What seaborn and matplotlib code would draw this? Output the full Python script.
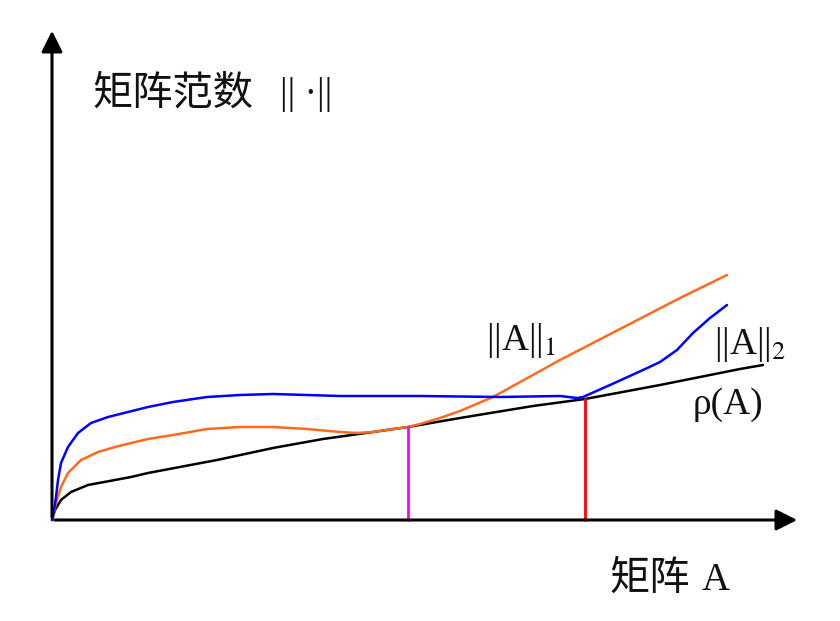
import numpy as np
import pandas as pd
import seaborn as sns
import matplotlib.pyplot as plt

sns.set_theme(style="white")
plt.rcParams['font.family'] = ['Liberation Serif', 'Noto Sans CJK SC', 'DejaVu Sans']
plt.rcParams['mathtext.fontset'] = 'stix'

rho_x = [0, 3, 9, 19, 36, 63, 79, 96, 165, 221, 271, 321, 356, 408, 481, 533, 608, 688, 711]
rho_y = [0, 10, 20, 28, 35, 40, 43, 47, 60, 72, 81, 88, 93, 102, 114, 121, 135, 151, 155]

n1_x = [0, 2, 4, 9, 16, 29, 46, 63, 79, 96, 121, 155, 188, 221, 255, 288, 305, 321, 341,
        356, 368, 388, 408, 441, 508, 568, 628, 675]
n1_y = [0, 7, 17, 33, 47, 60, 68, 73, 77, 81, 85, 91, 93, 93, 91, 88, 87, 88, 91,
        93, 96, 102, 109, 123, 160, 191, 222, 245]

n2_x = [0, 2, 4, 6, 9, 16, 26, 39, 56, 76, 96, 121, 155, 188, 221, 255, 288, 368, 448,
        508, 525, 531, 558, 591, 608, 625, 641, 658, 675]
n2_y = [0, 9, 23, 40, 57, 73, 87, 97, 103, 108, 113, 118, 123, 125, 126, 125, 124, 124, 123,
        124, 122, 123, 135, 150, 158, 170, 187, 202, 215]

cross_1 = (356, 93)    # ||A||1 meets rho(A)
cross_2 = (533, 121)   # ||A||2 meets rho(A)

df = pd.concat([
    pd.DataFrame({"x": rho_x, "y": rho_y, "curve": "rho"}),
    pd.DataFrame({"x": n1_x, "y": n1_y, "curve": "n1"}),
    pd.DataFrame({"x": n2_x, "y": n2_y, "curve": "n2"}),
])
palette = {"rho": "black", "n1": "#FF6A20", "n2": "#0000FF"}

fig = plt.figure(figsize=(8.4, 6.21), dpi=100)
ax = fig.add_axes([0, 0, 1, 1])
sns.lineplot(data=df, x="x", y="y", hue="curve", palette=palette, sort=False,
             estimator=None, lw=1.8, legend=False, ax=ax)

ax.plot([cross_1[0], cross_1[0]], [0, cross_1[1]], color="#FF00FF", lw=2)
ax.plot([cross_2[0], cross_2[0]], [0, cross_2[1]], color="#FF0000", lw=2)

# axes with arrows
ax.annotate("", xy=(0, 492), xytext=(0, 0),
            arrowprops=dict(arrowstyle="-|>", lw=2.2, color="black", mutation_scale=32))
ax.annotate("", xy=(748, 0), xytext=(0, 0),
            arrowprops=dict(arrowstyle="-|>", lw=2.2, color="black", mutation_scale=32))

txt = "#111111"
ax.text(41, 425, "矩阵范数", fontsize=29, va="center", ha="left", color=txt)
ax.text(228, 425, "|| ·||", fontsize=27, va="center", ha="left", color=txt)
ax.text(434, 180, "||A||$_{1}$", fontsize=27, va="center", ha="left", color=txt)
ax.text(662, 175, "||A||$_{2}$", fontsize=27, va="center", ha="left", color=txt)
ax.text(641, 115, "ρ(A)", fontsize=27, va="center", ha="left", color=txt)
ax.text(558, -60, "矩阵", fontsize=29, va="center", ha="left", color=txt)
ax.text(650, -60, "A", fontsize=28, va="center", ha="left", color=txt)

ax.set_xlim(-52, 788)
ax.set_ylim(-101, 520)
ax.axis("off")

fig.savefig("out.png", dpi=100)
